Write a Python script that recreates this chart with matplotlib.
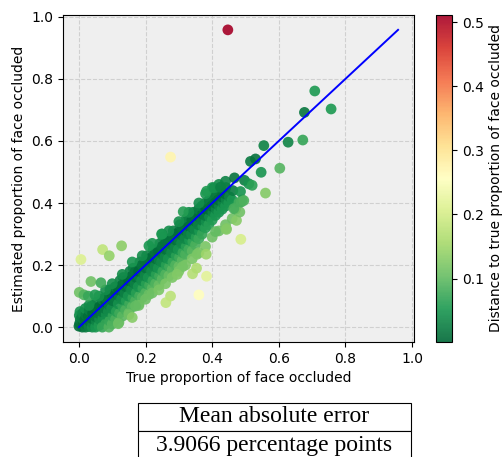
import numpy as np
import matplotlib
matplotlib.use("Agg")
import matplotlib.pyplot as plt

# dense band along the diagonal (true, estimated), one line per column
true_band = [
    0.000, 0.002, 0.004, 0.001, 0.003,
    0.010, 0.012, 0.008, 0.011,
    0.020, 0.022, 0.018, 0.021, 0.019,
    0.030, 0.032, 0.028, 0.031,
    0.040, 0.042, 0.038, 0.041, 0.039,
    0.050, 0.052, 0.048, 0.051, 0.049,
    0.060, 0.062, 0.058, 0.061,
    0.070, 0.072, 0.068, 0.071, 0.069,
    0.080, 0.082, 0.078, 0.081, 0.079,
    0.090, 0.092, 0.088, 0.091, 0.089, 0.093,
    0.100, 0.102, 0.098, 0.101, 0.099,
    0.110, 0.112, 0.108, 0.111, 0.109,
    0.120, 0.122, 0.118, 0.121, 0.119, 0.123,
    0.130, 0.132, 0.128, 0.131, 0.129, 0.133,
    0.140, 0.142, 0.138, 0.141, 0.139,
    0.150, 0.152, 0.148, 0.151, 0.149, 0.153,
    0.160, 0.162, 0.158, 0.161, 0.159, 0.163,
    0.170, 0.172, 0.168, 0.171, 0.169,
    0.180, 0.182, 0.178, 0.181, 0.179, 0.183,
    0.190, 0.192, 0.188, 0.191, 0.189,
    0.200, 0.202, 0.198, 0.201, 0.199, 0.203,
    0.210, 0.212, 0.208, 0.211, 0.209,
    0.220, 0.222, 0.218, 0.221, 0.219, 0.223,
    0.230, 0.232, 0.228, 0.231, 0.229,
    0.240, 0.242, 0.238, 0.241, 0.239, 0.243,
    0.250, 0.252, 0.248, 0.251, 0.249, 0.253,
    0.260, 0.262, 0.258, 0.261, 0.259,
    0.270, 0.272, 0.268, 0.271, 0.269,
    0.280, 0.282, 0.278, 0.281, 0.279, 0.283,
    0.290, 0.292, 0.288, 0.291, 0.289,
    0.300, 0.302, 0.298, 0.301, 0.299, 0.303,
    0.310, 0.312, 0.308, 0.311, 0.309,
    0.320, 0.322, 0.318, 0.321, 0.319, 0.323,
    0.330, 0.332, 0.328, 0.331, 0.329,
    0.340, 0.342, 0.338, 0.341, 0.339, 0.343,
    0.350, 0.352, 0.348, 0.351, 0.349,
    0.360, 0.362, 0.358, 0.361, 0.359,
    0.370, 0.372, 0.368, 0.371, 0.369,
    0.380, 0.382, 0.378, 0.381, 0.379,
    0.390, 0.392, 0.388, 0.391,
    0.400, 0.402, 0.398, 0.401,
    0.410, 0.412, 0.408, 0.411,
    0.420, 0.422, 0.418, 0.421,
    0.430, 0.432, 0.428,
    0.440, 0.442, 0.438, 0.441,
    0.450, 0.452,
    0.460, 0.462,
]
est_band = [
    0.003, 0.012, 0.025, 0.038, 0.050,
    0.000, 0.015, 0.030, 0.045,
    0.000, 0.010, 0.025, 0.040, 0.060,
    0.002, 0.018, 0.035, 0.055,
    0.000, 0.012, 0.028, 0.045, 0.070,
    0.000, 0.020, 0.035, 0.055, 0.080,
    0.005, 0.025, 0.045, 0.065,
    0.000, 0.030, 0.050, 0.070, 0.090,
    0.010, 0.040, 0.060, 0.080, 0.095,
    0.000, 0.020, 0.050, 0.070, 0.100, 0.120,
    0.010, 0.035, 0.060, 0.085, 0.105,
    0.025, 0.050, 0.090, 0.110, 0.130,
    0.015, 0.045, 0.075, 0.100, 0.120, 0.150,
    0.035, 0.065, 0.090, 0.115, 0.135, 0.160,
    0.055, 0.085, 0.110, 0.130, 0.150,
    0.045, 0.075, 0.100, 0.130, 0.150, 0.180,
    0.065, 0.095, 0.120, 0.145, 0.165, 0.190,
    0.085, 0.110, 0.140, 0.160, 0.180,
    0.075, 0.100, 0.130, 0.160, 0.180, 0.210,
    0.095, 0.125, 0.150, 0.175, 0.200,
    0.110, 0.140, 0.165, 0.190, 0.210, 0.230,
    0.105, 0.135, 0.160, 0.190, 0.220,
    0.125, 0.150, 0.180, 0.205, 0.225, 0.250,
    0.140, 0.170, 0.195, 0.220, 0.240,
    0.135, 0.165, 0.190, 0.215, 0.245, 0.270,
    0.155, 0.180, 0.210, 0.235, 0.260, 0.290,
    0.170, 0.200, 0.225, 0.250, 0.270,
    0.165, 0.195, 0.220, 0.250, 0.280,
    0.185, 0.210, 0.240, 0.265, 0.290, 0.310,
    0.200, 0.230, 0.255, 0.280, 0.300,
    0.195, 0.225, 0.250, 0.280, 0.305, 0.330,
    0.215, 0.240, 0.270, 0.295, 0.320,
    0.235, 0.260, 0.285, 0.310, 0.330, 0.350,
    0.250, 0.280, 0.300, 0.325, 0.355,
    0.245, 0.275, 0.300, 0.320, 0.345, 0.370,
    0.265, 0.290, 0.315, 0.340, 0.360,
    0.285, 0.310, 0.330, 0.355, 0.380,
    0.300, 0.325, 0.345, 0.365, 0.390,
    0.320, 0.340, 0.360, 0.380, 0.400,
    0.330, 0.355, 0.380, 0.410,
    0.345, 0.370, 0.390, 0.420,
    0.360, 0.380, 0.400, 0.430,
    0.370, 0.390, 0.410, 0.440,
    0.380, 0.400, 0.420,
    0.390, 0.410, 0.430, 0.450,
    0.400, 0.420,
    0.410, 0.440,
]

# under-estimates below the band (lighter green)
true_low = [0.15, 0.18, 0.20, 0.22, 0.24, 0.26, 0.28, 0.30, 0.32, 0.34,
            0.36, 0.38, 0.40, 0.42, 0.44, 0.46, 0.47, 0.48, 0.49]
est_low = [0.04, 0.07, 0.09, 0.11, 0.12, 0.14, 0.16, 0.18, 0.20, 0.22,
           0.24, 0.26, 0.29, 0.31, 0.33, 0.35, 0.38, 0.40, 0.41]

# over-estimates just above the diagonal (dark green)
true_high = [0.03, 0.06, 0.08, 0.10, 0.13, 0.16, 0.19, 0.22, 0.25, 0.27,
             0.30, 0.33, 0.36, 0.38, 0.40, 0.42, 0.44]
est_high = [0.07, 0.10, 0.12, 0.14, 0.17, 0.21, 0.23, 0.27, 0.30, 0.31,
            0.34, 0.37, 0.40, 0.43, 0.45, 0.46, 0.47]

# scattered points away from the band
true_out = [0.447, 0.275, 0.708, 0.757, 0.677, 0.628, 0.555, 0.672, 0.603, 0.515,
            0.530, 0.547, 0.467, 0.497, 0.510, 0.520, 0.485, 0.560, 0.383, 0.405,
            0.425, 0.486, 0.442, 0.473, 0.483, 0.487, 0.495, 0.465, 0.128, 0.071,
            0.091, 0.006, 0.036, 0.066, 0.001, 0.015, 0.028, 0.048, 0.360, 0.383,
            0.341, 0.353, 0.275, 0.261, 0.210, 0.160, 0.118, 0.170, 0.355, 0.382,
            0.311, 0.295, 0.410, 0.248, 0.313, 0.443]
est_out = [0.958, 0.548, 0.761, 0.703, 0.692, 0.596, 0.585, 0.603, 0.512, 0.534,
           0.542, 0.499, 0.481, 0.473, 0.462, 0.457, 0.437, 0.432, 0.438, 0.449,
           0.451, 0.283, 0.318, 0.344, 0.371, 0.403, 0.408, 0.382, 0.262, 0.250,
           0.230, 0.218, 0.147, 0.143, 0.112, 0.104, 0.100, 0.104, 0.104, 0.164,
           0.172, 0.190, 0.100, 0.079, 0.262, 0.031, 0.011, 0.068, 0.235, 0.235,
           0.195, 0.170, 0.308, 0.300, 0.372, 0.315]

mae_label = "Mean absolute error"
mae_value = "3.9066 percentage points"

true_all = np.array(true_band + true_low + true_high + true_out)
est_all = np.array(est_band + est_low + est_high + est_out)
dist = np.abs(est_all - true_all)

fig = plt.figure(figsize=(5.03, 4.57), dpi=100)
ax = fig.add_axes([63 / 503, 115 / 457, 351 / 503, 327 / 457])
cax = fig.add_axes([436 / 503, 115 / 457, 16 / 503, 327 / 457])

ax.set_facecolor("#efefef")
ax.grid(True, linestyle="--", color="#d0d0d0", linewidth=0.8)
ax.set_axisbelow(True)

sc = ax.scatter(true_all, est_all, c=dist, cmap="RdYlGn_r", s=60, alpha=0.9,
                edgecolors="none")
top = est_all.max()
ax.plot([0, top], [0, top], color="blue", linewidth=1.4)

ax.set_xticks([0.0, 0.2, 0.4, 0.6, 0.8, 1.0])
ax.set_yticks([0.0, 0.2, 0.4, 0.6, 0.8, 1.0])
ax.set_xlabel("True proportion of face occluded", fontsize=10)
ax.set_ylabel("Estimated proportion of face occluded", fontsize=10)

cb = fig.colorbar(sc, cax=cax)
cb.set_label("Distance to true proportion of face occluded", fontsize=10)
cb.outline.set_linewidth(0.8)

tb = ax.table(cellText=[[mae_label], [mae_value]], cellLoc="center",
              bbox=[75 / 351, -(61 + 56) / 327, 273 / 351, 56 / 327])
tb.auto_set_font_size(False)
for cell in tb.get_celld().values():
    cell.set_linewidth(0.8)
    cell.get_text().set_fontfamily("Liberation Serif")
    cell.get_text().set_fontsize(17)

fig.savefig("out.png", dpi=100)
